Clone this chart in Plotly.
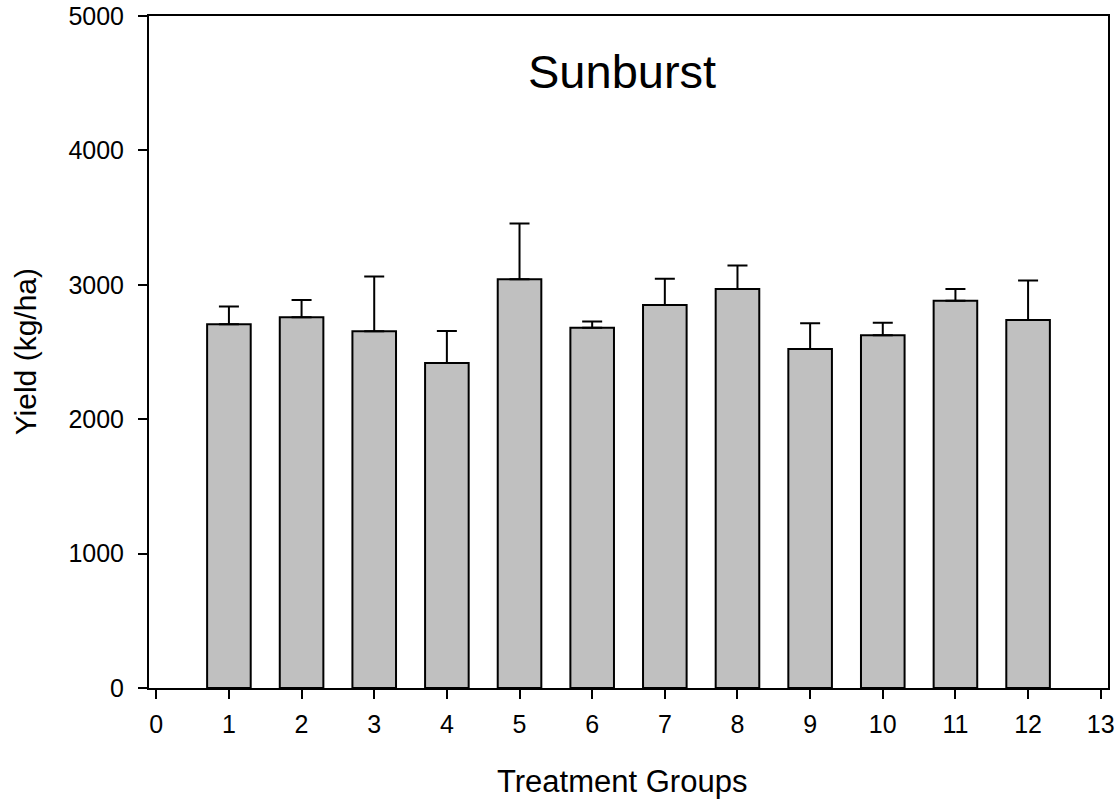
import plotly.graph_objects as go

# Treatment group yields (kg/ha) with upper standard-error bars
groups = [1, 2, 3, 4, 5, 6, 7, 8, 9, 10, 11, 12]
yield_mean = [2707, 2759, 2655, 2419, 3042, 2680, 2849, 2968, 2523, 2625, 2881, 2739]
yield_err = [131, 127, 407, 238, 415, 47, 196, 176, 191, 92, 87, 293]

x_ticks = list(range(0, 14))
y_ticks = [0, 1000, 2000, 3000, 4000, 5000]

FONT = "Liberation Sans, Arial, sans-serif"

fig = go.Figure()
fig.add_trace(go.Bar(
    x=groups,
    y=yield_mean,
    width=0.6,
    marker=dict(color="#c0c0c0", line=dict(color="black", width=2)),
    error_y=dict(
        type="data",
        array=yield_err,
        arrayminus=[0] * len(yield_err),
        symmetric=False,
        color="black",
        thickness=2,
        width=10,
    ),
    showlegend=False,
))

axis_common = dict(
    showline=True,
    linecolor="black",
    linewidth=2,
    mirror=True,
    ticks="outside",
    ticklen=9,
    tickwidth=2,
    tickcolor="black",
    showgrid=False,
    zeroline=False,
    tickfont=dict(family=FONT, size=25, color="black"),
)

fig.update_xaxes(
    range=[-0.1, 13.1],
    tickvals=x_ticks,
    ticktext=[str(t) for t in x_ticks],
    ticklabelstandoff=4,
    **axis_common,
)
fig.update_yaxes(
    range=[0, 5000],
    tickvals=y_ticks,
    ticktext=[str(t) for t in y_ticks],
    ticklabelstandoff=9,
    **axis_common,
)

# Chart title and axis titles
fig.add_annotation(
    text="Sunburst",
    xref="paper", yref="paper",
    x=0.4936, y=0.917,
    xanchor="center", yanchor="middle",
    showarrow=False,
    font=dict(family=FONT, size=47, color="black"),
)
fig.add_annotation(
    text="Treatment Groups",
    xref="paper", yref="paper",
    x=0.4936, y=-0.139,
    xanchor="center", yanchor="middle",
    showarrow=False,
    font=dict(family=FONT, size=31, color="black"),
)
fig.add_annotation(
    text="Yield (kg/ha)",
    xref="paper", yref="paper",
    x=-0.129, y=0.5,
    xanchor="center", yanchor="middle",
    textangle=-90,
    showarrow=False,
    font=dict(family=FONT, size=30, color="black"),
)

fig.update_layout(
    width=1119,
    height=802,
    margin=dict(l=149, r=11, t=16, b=114, autoexpand=False),
    plot_bgcolor="white",
    paper_bgcolor="white",
    bargap=0.4,
)

fig.write_html("out.html")
